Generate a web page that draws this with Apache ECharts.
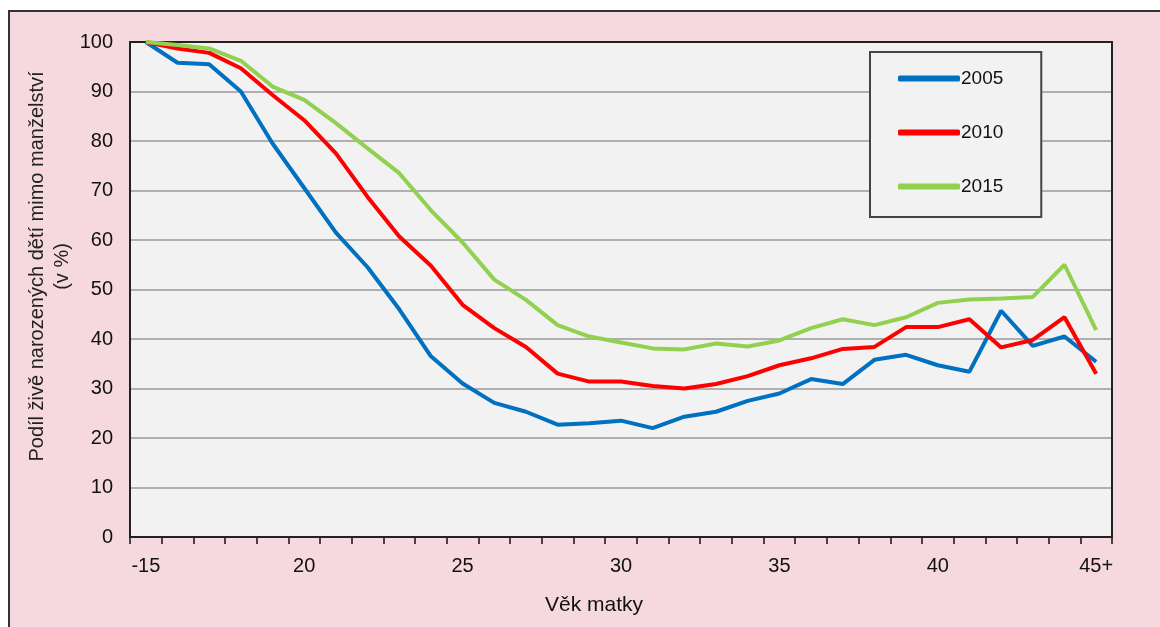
<!DOCTYPE html>
<html>
<head>
<meta charset="utf-8">
<script src="https://cdn.jsdelivr.net/npm/echarts@6/dist/echarts.min.js"></script>
<style>
  html, body { margin: 0; padding: 0; background: #ffffff; }
  #chart-container { width: 1160px; height: 627px; }
</style>
</head>
<body>
<div id="chart-container"></div>
<script>
// ages of the mother: -15, 16 ... 44, 45+
const ages = ["-15", "16", "17", "18", "19", "20", "21", "22", "23", "24", "25", "26", "27", "28", "29", "30",
  "31", "32", "33", "34", "35", "36", "37", "38", "39", "40", "41", "42", "43", "44", "45+"];

const years = ["2005", "2010", "2015"];

const share2005 = [100, 95.8, 95.5, 90, 79.5, 70.5, 61.5, 54.5, 46, 36.5, 31, 27.1, 25.3, 22.7, 23, 23.5,
  22, 24.3, 25.3, 27.5, 29, 31.9, 30.9, 35.8, 36.8, 34.7, 33.4, 45.7, 38.6, 40.5, 35.4];
const share2010 = [100, 98.7, 97.8, 94.7, 89.3, 84.2, 77.5, 68.7, 60.7, 54.8, 46.9, 42.2, 38.4, 33, 31.4, 31.4,
  30.5, 30, 30.9, 32.5, 34.7, 36.1, 38, 38.4, 42.4, 42.4, 44, 38.3, 39.8, 44.4, 33];
const share2015 = [100, 99.4, 98.7, 96.2, 91, 88.3, 83.6, 78.5, 73.5, 66, 59.5, 52, 47.9, 42.8, 40.5, 39.3,
  38.1, 37.9, 39.1, 38.5, 39.7, 42.2, 44, 42.8, 44.4, 47.3, 48, 48.2, 48.5, 55, 41.8];

const colors = ["#0070C0", "#FF0000", "#92D050"];
const font = "'Liberation Sans', Arial, sans-serif";

const dom = document.getElementById("chart-container");
const myChart = echarts.init(dom, null, { renderer: "canvas" });

const makeLine = (name, data, color) => ({
  name: name,
  type: "line",
  data: data,
  symbol: "none",
  smooth: false,
  lineStyle: { color: color, width: 4 },
  itemStyle: { color: color },
  z: 5
});

const option = {
  animation: false,
  backgroundColor: "#ffffff",
  graphic: [
    {
      type: "rect",
      z: -10,
      shape: { x: 9, y: 11, width: 1160, height: 640 },
      style: { fill: "#F5D9DE", stroke: "#333333", lineWidth: 2 }
    },
    {
      // plot frame
      type: "rect",
      z: 3,
      shape: { x: 130, y: 42, width: 982, height: 495 },
      style: { fill: "none", stroke: "#222222", lineWidth: 2 }
    }
  ],
  grid: {
    left: 130,
    right: 48,
    top: 42,
    bottom: 90,
    show: true,
    backgroundColor: "#F2F2F2",
    borderWidth: 0
  },
  legend: {
    data: years,
    orient: "vertical",
    left: 870,
    top: 52,
    padding: [17, 38, 21, 28],
    itemGap: 35,
    itemWidth: 62,
    itemHeight: 6,
    icon: "roundRect",
    backgroundColor: "#F2F2F2",
    borderColor: "#444444",
    borderWidth: 2,
    textStyle: { fontFamily: font, fontSize: 19, color: "#111111", padding: [0, 0, 0, -4] }
  },
  xAxis: {
    type: "category",
    data: ages,
    boundaryGap: true,
    name: "Věk matky",
    nameLocation: "middle",
    nameGap: 58,
    nameTextStyle: { fontFamily: font, fontSize: 21, color: "#111111", padding: [0, 54, 0, 0] },
    axisLine: { lineStyle: { color: "#111111", width: 2 } },
    axisTick: { show: true, interval: 0, length: 7, lineStyle: { color: "#111111", width: 1.5 } },
    axisLabel: {
      interval: 4,
      margin: 19,
      fontFamily: font,
      fontSize: 20,
      color: "#111111"
    },
    splitLine: { show: false }
  },
  yAxis: {
    type: "value",
    min: 0,
    max: 100,
    interval: 10,
    name: "Podíl živě narozených dětí mimo manželství\n(v %)",
    nameLocation: "middle",
    nameGap: 55,
    nameMoveOverlap: false,
    nameRotate: 90,
    nameTextStyle: { fontFamily: font, fontSize: 20, color: "#222222", lineHeight: 25, padding: [0, 0, 0, 46] },
    axisLine: { show: true, lineStyle: { color: "#111111", width: 2 } },
    axisTick: { show: false },
    axisLabel: { margin: 17, fontFamily: font, fontSize: 20, color: "#111111" },
    splitLine: { lineStyle: { color: "#AFAFAF", width: 2 } }
  },
  series: [
    makeLine(years[0], share2005, colors[0]),
    makeLine(years[1], share2010, colors[1]),
    makeLine(years[2], share2015, colors[2])
  ]
};

myChart.setOption(option);
window.addEventListener("resize", myChart.resize);
</script>
</body>
</html>
